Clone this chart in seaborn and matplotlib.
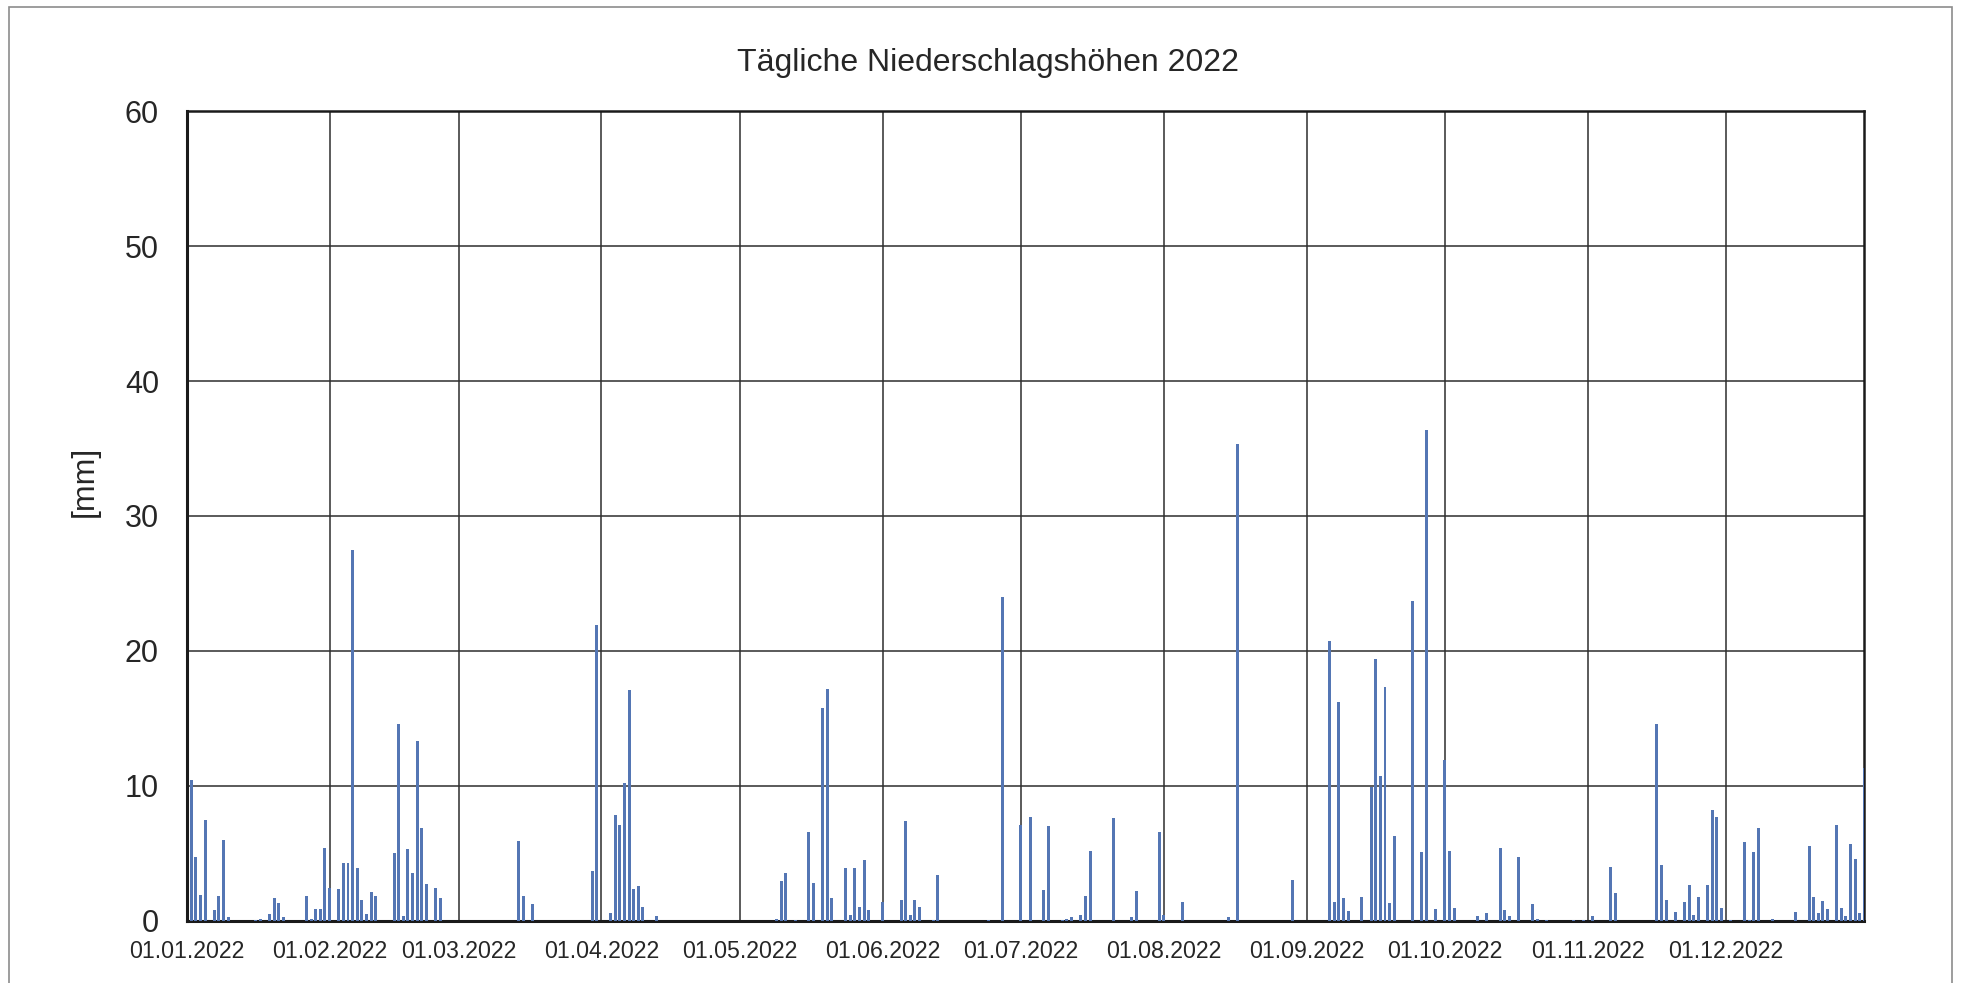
import numpy as np
import pandas as pd
import seaborn as sns
import matplotlib.pyplot as plt
from matplotlib.patches import Rectangle

# Daily precipitation 2022, only days with rain listed (dd.mm.), values in mm
wet_dates = [
    "02.01", "03.01", "04.01", "05.01", "07.01", "08.01", "09.01", "10.01", "16.01", "17.01",
    "19.01", "20.01", "21.01", "22.01", "27.01", "28.01", "29.01", "30.01", "31.01",
    "01.02", "03.02", "04.02", "05.02", "06.02", "07.02", "08.02", "09.02", "10.02", "11.02",
    "15.02", "16.02", "17.02", "18.02", "19.02", "20.02", "21.02", "22.02", "24.02", "25.02",
    "14.03", "15.03", "17.03", "30.03", "31.03",
    "03.04", "04.04", "05.04", "06.04", "07.04", "08.04", "09.04", "10.04", "13.04",
    "09.05", "10.05", "11.05", "13.05", "16.05", "17.05", "19.05", "20.05", "21.05", "24.05",
    "25.05", "26.05", "27.05", "28.05", "29.05",
    "01.06", "05.06", "06.06", "07.06", "08.06", "09.06", "12.06", "13.06", "24.06", "27.06",
    "01.07", "03.07", "06.07", "07.07", "10.07", "11.07", "12.07", "14.07", "15.07", "16.07",
    "21.07", "25.07", "26.07", "31.07",
    "01.08", "05.08", "15.08", "17.08", "29.08",
    "06.09", "07.09", "08.09", "09.09", "10.09", "13.09", "15.09", "16.09", "17.09", "18.09",
    "19.09", "20.09", "24.09", "26.09", "27.09", "29.09",
    "01.10", "02.10", "03.10", "08.10", "10.10", "13.10", "14.10", "15.10", "17.10", "20.10",
    "21.10", "23.10", "29.10", "31.10",
    "02.11", "06.11", "07.11", "16.11", "17.11", "18.11", "20.11", "22.11", "23.11", "24.11",
    "25.11", "27.11", "28.11", "29.11", "30.11",
    "02.12", "05.12", "06.12", "07.12", "08.12", "11.12", "16.12", "19.12", "20.12", "21.12",
    "22.12", "23.12", "25.12", "26.12", "27.12", "28.12", "29.12", "30.12", "31.12",
]
wet_mm = [
    10.4, 4.7, 1.9, 7.5, 0.8, 1.8, 6.0, 0.3, 0.05, 0.15,
    0.5, 1.7, 1.3, 0.3, 1.8, 0.15, 0.9, 0.9, 5.4,
    2.4, 2.35, 4.3, 4.3, 27.5, 3.9, 1.5, 0.5, 2.1, 1.8,
    5.0, 14.6, 0.35, 5.3, 3.5, 13.3, 6.9, 2.7, 2.45, 1.7,
    5.9, 1.8, 1.2, 3.7, 21.9,
    0.55, 7.8, 7.1, 10.2, 17.1, 2.35, 2.6, 1.0, 0.35,
    0.15, 2.95, 3.5, 0.05, 6.6, 2.8, 15.8, 17.2, 1.7, 3.9,
    0.45, 3.9, 1.0, 4.5, 0.8,
    1.4, 1.5, 7.4, 0.45, 1.5, 1.0, 0.05, 3.4, 0.05, 24.0,
    7.1, 7.7, 2.3, 7.0, 0.05, 0.15, 0.25, 0.45, 1.8, 5.2,
    7.6, 0.25, 2.2, 6.6,
    0.45, 1.4, 0.3, 35.3, 3.0,
    20.7, 1.4, 16.2, 1.7, 0.7, 1.75, 9.9, 19.4, 10.7, 17.3,
    1.3, 6.3, 23.7, 5.1, 36.4, 0.85,
    11.9, 5.2, 0.95, 0.35, 0.55, 5.4, 0.8, 0.35, 4.7, 1.2,
    0.15, 0.05, 0.05, 0.05,
    0.35, 4.0, 2.05, 14.6, 4.1, 1.5, 0.65, 1.35, 2.65, 0.45,
    1.75, 2.65, 8.2, 7.7, 0.95,
    0.05, 5.8, 0.05, 5.1, 6.9, 0.15, 0.65, 5.5, 1.75, 0.55,
    1.45, 0.85, 7.1, 0.95, 0.35, 5.65, 4.6, 0.55, 11.3,
]
month_labels = ["01.01.2022", "01.02.2022", "01.03.2022", "01.04.2022", "01.05.2022", "01.06.2022",
                "01.07.2022", "01.08.2022", "01.09.2022", "01.10.2022", "01.11.2022", "01.12.2022"]

# full year, dry days = 0
days = pd.date_range("2022-01-01", "2022-12-31", freq="D")
rain = pd.Series(wet_mm, index=pd.to_datetime([d + ".2022" for d in wet_dates], format="%d.%m.%Y"))
df = pd.DataFrame({"date": days, "mm": rain.reindex(days, fill_value=0.0).values})
df["day"] = (df["date"] - days[0]).dt.days

month_pos = [(pd.to_datetime(m, format="%d.%m.%Y") - days[0]).days for m in month_labels]

sns.set_style("white")
plt.rcParams["font.family"] = ["Liberation Sans", "DejaVu Sans"]

fig = plt.figure(figsize=(19.61, 9.83), dpi=100)
ax = fig.add_axes([0.0952, 0.0634, 0.8555, 0.8234])

sns.barplot(data=df, x="day", y="mm", native_scale=True, color="#4472C4",
            width=0.65, linewidth=0, errorbar=None, ax=ax, zorder=5)

ax.set_xlim(0, 364)
ax.set_ylim(0, 60)
ax.set_yticks(np.arange(0, 61, 10))
ax.set_xticks(month_pos)
ax.set_xticklabels(month_labels, fontsize=16.7)
ax.tick_params(axis="y", labelsize=22, direction="out", length=5, width=1.2, pad=15)
ax.tick_params(axis="x", direction="out", length=5, width=1.2, pad=9)
ax.grid(True, color="#2e2e2e", linewidth=1.1, zorder=0)
ax.set_axisbelow(True)
for side, sp in ax.spines.items():
    sp.set_color("#1a1a1a")
    sp.set_linewidth(2.2 if side in ("left", "bottom") else 1.8)
    sp.set_zorder(4)

ax.set_xlabel("")
ax.set_ylabel("[mm]", fontsize=23)
ax.yaxis.set_label_coords(-0.052, 0.543)
fig.text(0.504, 0.936, "Tägliche Niederschlagshöhen 2022", ha="center", va="center", fontsize=23)

# thin grey frame around the chart area
fig.patches.append(Rectangle((0.0045, -0.01), 0.991, 1.0024, transform=fig.transFigure,
                             fill=False, edgecolor="#8c8c8c", linewidth=1.2))

fig.savefig("out.png", dpi=100)
plt.close(fig)
